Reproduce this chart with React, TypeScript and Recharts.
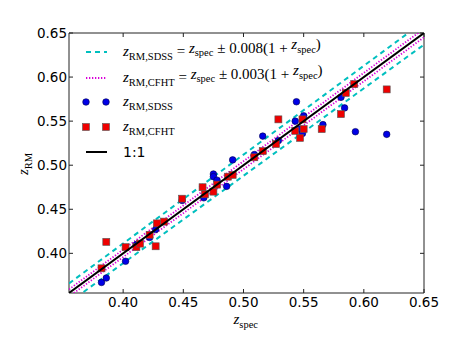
import React from 'react';
import { ScatterChart, Scatter, XAxis, YAxis, Label } from 'recharts';

const tickValues = [0.4, 0.45, 0.5, 0.55, 0.6, 0.65];
const axisDomain = [0.355, 0.65];

const sdssSpec = [0.382, 0.386, 0.402, 0.411, 0.422, 0.427, 0.449, 0.467, 0.475, 0.475, 0.478, 0.486, 0.491, 0.509, 0.516, 0.529, 0.544, 0.543, 0.546, 0.550, 0.549, 0.566, 0.581, 0.584, 0.593, 0.619];
const sdssRm = [0.367, 0.372, 0.391, 0.410, 0.418, 0.427, 0.460, 0.463, 0.490, 0.487, 0.483, 0.476, 0.506, 0.512, 0.533, 0.528, 0.572, 0.550, 0.541, 0.556, 0.536, 0.546, 0.577, 0.565, 0.538, 0.535];

const cfhtSpec = [0.382, 0.386, 0.402, 0.411, 0.414, 0.422, 0.427, 0.428, 0.434, 0.449, 0.466, 0.468, 0.475, 0.478, 0.487, 0.491, 0.509, 0.516, 0.527, 0.529, 0.543, 0.549, 0.550, 0.547, 0.565, 0.581, 0.585, 0.592, 0.619];
const cfhtRm = [0.383, 0.413, 0.407, 0.407, 0.411, 0.421, 0.408, 0.434, 0.436, 0.462, 0.475, 0.467, 0.470, 0.478, 0.487, 0.489, 0.509, 0.516, 0.524, 0.552, 0.539, 0.552, 0.541, 0.531, 0.541, 0.558, 0.582, 0.592, 0.586];

const lineEnds = [0.355, 0.65];
const sdssTol = 0.008;
const cfhtTol = 0.003;

const sdssData = sdssSpec.map((x, i) => ({ x, y: sdssRm[i] }));
const cfhtData = cfhtSpec.map((x, i) => ({ x, y: cfhtRm[i] }));
const oneToOne = lineEnds.map((x) => ({ x, y: x }));
const band = (tol: number, sign: number) => lineEnds.map((x) => ({ x, y: x + sign * tol * (1 + x) }));

const serif = '"Liberation Serif", "DejaVu Serif", serif';
const sans = '"DejaVu Sans", sans-serif';

const Circle = (p: any) => <circle cx={p.cx} cy={p.cy} r={3.3} fill="#0000e6" stroke="#00004d" strokeWidth={0.6} />;
const Square = (p: any) => <rect x={p.cx - 3.5} y={p.cy - 3.5} width={7} height={7} fill="#ee0000" stroke="#555" strokeWidth={0.6} />;
const NoShape = () => <g />;

const Sub = ({ children }: { children: string }) => (
  <tspan fontStyle="normal" fontSize={10.5} dy={3.5}>{children}</tspan>
);

const ZSub = ({ sub }: { sub: string }) => (
  <>
    <tspan fontStyle="italic" dy={-3.5}>z</tspan>
    <Sub>{sub}</Sub>
  </>
);

const Legend = () => {
  const lx1 = 86;
  const lx2 = 107;
  const tx = 123;
  return (
    <g>
      <line x1={lx1} x2={lx2} y1={52} y2={52} stroke="#00bfbf" strokeWidth={2} strokeDasharray="5 4" />
      <text x={tx} y={56} fontFamily={serif} fontSize={15} fill="#000">
        <tspan fontStyle="italic">z</tspan><Sub>RM,SDSS</Sub>
        <tspan dy={-3.5}> = </tspan>
        <ZSub sub="spec" />
        <tspan dy={-3.5}> ± 0.008(1 + </tspan>
        <ZSub sub="spec" />
        <tspan dy={-3.5}>)</tspan>
      </text>
      <line x1={lx1} x2={lx2} y1={78} y2={78} stroke="#d900d9" strokeWidth={1.8} strokeDasharray="1.3 1.7" />
      <text x={tx} y={82} fontFamily={serif} fontSize={15} fill="#000">
        <tspan fontStyle="italic">z</tspan><Sub>RM,CFHT</Sub>
        <tspan dy={-3.5}> = </tspan>
        <ZSub sub="spec" />
        <tspan dy={-3.5}> ± 0.003(1 + </tspan>
        <ZSub sub="spec" />
        <tspan dy={-3.5}>)</tspan>
      </text>
      <Circle cx={86} cy={102} />
      <Circle cx={106} cy={102} />
      <text x={tx} y={106} fontFamily={serif} fontSize={15} fill="#000">
        <tspan fontStyle="italic">z</tspan><Sub>RM,SDSS</Sub>
      </text>
      <Square cx={86} cy={127} />
      <Square cx={106} cy={127} />
      <text x={tx} y={131} fontFamily={serif} fontSize={15} fill="#000">
        <tspan fontStyle="italic">z</tspan><Sub>RM,CFHT</Sub>
      </text>
      <line x1={lx1} x2={lx2} y1={152} y2={152} stroke="#000" strokeWidth={2} />
      <text x={tx} y={157} fontFamily={sans} fontSize={14} fill="#000">1:1</text>
    </g>
  );
};

const axisStroke = '#222';
const tickStyle = { fill: '#000', fontSize: 13.5, fontFamily: sans };
const EmptyTick = () => <g />;

export default function App() {
  return (
    <div style={{ position: 'absolute', left: 0, top: 0, width: 461, height: 345, background: '#fff' }}>
      <ScatterChart width={461} height={345} margin={{ top: 0, right: 0, bottom: 0, left: 0 }}>
        <XAxis
          xAxisId="b"
          type="number"
          dataKey="x"
          domain={axisDomain}
          ticks={tickValues}
          allowDataOverflow
          height={52}
          orientation="bottom"
          stroke={axisStroke}
          tickSize={-4}
          tickMargin={8}
          tick={tickStyle}
          tickFormatter={(v: number) => v.toFixed(2)}
        >
          <Label
            content={(props: any) => {
              const vb = props.viewBox;
              const cx = vb.x + vb.width / 2;
              return (
                <text x={cx - 13} y={vb.y + 31} fontFamily={serif} fontSize={15} fill="#000">
                  <tspan fontStyle="italic">z</tspan><Sub>spec</Sub>
                </text>
              );
            }}
          />
        </XAxis>
        <XAxis
          xAxisId="t"
          type="number"
          dataKey="x"
          domain={axisDomain}
          ticks={tickValues}
          allowDataOverflow
          height={33}
          orientation="top"
          stroke={axisStroke}
          tickSize={-4}
          tick={EmptyTick}
        />
        <YAxis
          yAxisId="l"
          type="number"
          dataKey="y"
          domain={axisDomain}
          ticks={tickValues}
          allowDataOverflow
          width={69}
          orientation="left"
          stroke={axisStroke}
          tickSize={-4}
          tickMargin={6}
          tick={tickStyle}
          tickFormatter={(v: number) => v.toFixed(2)}
        >
          <Label
            content={(props: any) => {
              const vb = props.viewBox;
              const cy = vb.y + vb.height / 2;
              return (
                <text transform={`translate(28, ${cy + 12}) rotate(-90)`} fontFamily={serif} fontSize={15} fill="#000">
                  <tspan fontStyle="italic">z</tspan><Sub>RM</Sub>
                </text>
              );
            }}
          />
        </YAxis>
        <YAxis
          yAxisId="r"
          type="number"
          dataKey="y"
          domain={axisDomain}
          ticks={tickValues}
          allowDataOverflow
          width={37}
          orientation="right"
          stroke={axisStroke}
          tickSize={-4}
          tick={EmptyTick}
        />
        <Scatter xAxisId="b" yAxisId="l" data={band(sdssTol, 1)} line={{ stroke: '#00bfbf', strokeWidth: 2, strokeDasharray: '5 4' }} shape={NoShape} isAnimationActive={false} />
        <Scatter xAxisId="b" yAxisId="l" data={band(sdssTol, -1)} line={{ stroke: '#00bfbf', strokeWidth: 2, strokeDasharray: '5 4' }} shape={NoShape} isAnimationActive={false} />
        <Scatter xAxisId="b" yAxisId="l" data={band(cfhtTol, 1)} line={{ stroke: '#d900d9', strokeWidth: 1.8, strokeDasharray: '1.3 1.7' }} shape={NoShape} isAnimationActive={false} />
        <Scatter xAxisId="b" yAxisId="l" data={band(cfhtTol, -1)} line={{ stroke: '#d900d9', strokeWidth: 1.8, strokeDasharray: '1.3 1.7' }} shape={NoShape} isAnimationActive={false} />
        <Scatter xAxisId="b" yAxisId="l" data={sdssData} shape={Circle} isAnimationActive={false} />
        <Scatter xAxisId="b" yAxisId="l" data={cfhtData} shape={Square} isAnimationActive={false} />
        <Scatter xAxisId="b" yAxisId="l" data={oneToOne} line={{ stroke: '#000', strokeWidth: 2 }} shape={NoShape} isAnimationActive={false} />
        <Legend />
      </ScatterChart>
    </div>
  );
}
